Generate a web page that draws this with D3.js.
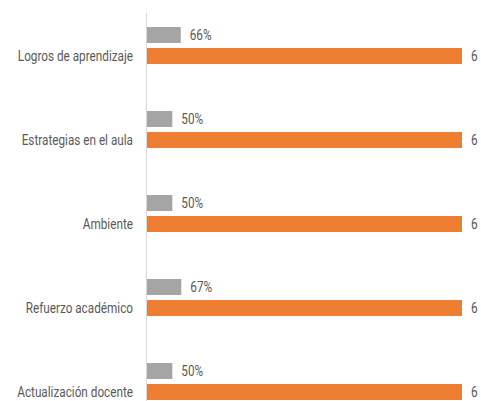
<!DOCTYPE html>
<html>
<head>
<meta charset="utf-8">
<script src="https://cdn.jsdelivr.net/npm/d3@7"></script>
<style>
  body { margin: 0; background: #fff; }
  text { font-family: Roboto, "Liberation Sans", sans-serif; fill: #595959; }
</style>
</head>
<body>
<svg id="canvas"></svg>
<script>
var w = 481
var h = 401

// ########## Data ##########
var categories = ["Logros de aprendizaje", "Estrategias en el aula", "Ambiente", "Refuerzo académico", "Actualización docente"];
var pctValues = [0.66, 0.50, 0.50, 0.67, 0.50];
var pctLabels = ["66%", "50%", "50%", "67%", "50%"];
var countValues = [6, 6, 6, 6, 6];

// ########## SVG ##########
var svg = d3.select("#canvas")
    .attr("width", w)
    .attr("height", h);

// ########## Scales ##########
var x = d3.scaleLinear()
    .domain([0, 6])
    .range([146, 462]);

var y0 = d3.scaleBand()
    .domain(categories)
    .range([3.5, 423.5]);

var y1 = d3.scaleBand()
    .domain(["pct", "count"])
    .range([0, 37])
    .paddingInner(0.24);

var groupOffset = (y0.bandwidth() - 37) / 2;
var squeeze = 0.84; // narrow look of the original font

var rows = categories.map(function (c, i) {
    return { cat: c, pct: pctValues[i], pctLabel: pctLabels[i], count: countValues[i] };
});

// ########## Axis line ##########
svg.append("line")
    .attr("x1", x(0) + 0.5)
    .attr("x2", x(0) + 0.5)
    .attr("y1", 13)
    .attr("y2", h)
    .attr("stroke", "#d9d9d9")
    .attr("stroke-width", 1);

var group = svg.selectAll(".row")
    .data(rows).enter()
    .append("g")
    .attr("class", "row")
    .attr("transform", function (d) { return "translate(0," + (y0(d.cat) + groupOffset) + ")"; });

// ########## Bars ##########
group.append("rect")
    .attr("x", x(0) + 1)
    .attr("y", y1("pct"))
    .attr("width", function (d) { return x(d.pct) - x(0) - 1; })
    .attr("height", y1.bandwidth())
    .attr("fill", "#a5a5a5");

group.append("rect")
    .attr("x", x(0) + 1)
    .attr("y", y1("count"))
    .attr("width", function (d) { return x(d.count) - x(0) - 1; })
    .attr("height", y1.bandwidth())
    .attr("fill", "#ed7d31");

// ########## Labels ##########
function narrowText(sel, xPos, yPos, anchor, txt) {
    sel.append("text")
        .attr("transform", function (d) { return "translate(" + xPos(d) + "," + yPos + ") scale(" + squeeze + ",1)"; })
        .attr("dy", "0.35em")
        .attr("text-anchor", anchor)
        .attr("font-size", "14px")
        .text(txt);
}

narrowText(group, function (d) { return x(d.pct) + 9; }, y1("pct") + y1.bandwidth() / 2, "start",
    function (d) { return d.pctLabel; });

narrowText(group, function (d) { return x(d.count) + 9; }, y1("count") + y1.bandwidth() / 2, "start",
    function (d) { return d.count; });

narrowText(group, function () { return 133; }, y1("count") + y1.bandwidth() / 2, "end",
    function (d) { return d.cat; });
</script>
</body>
</html>
